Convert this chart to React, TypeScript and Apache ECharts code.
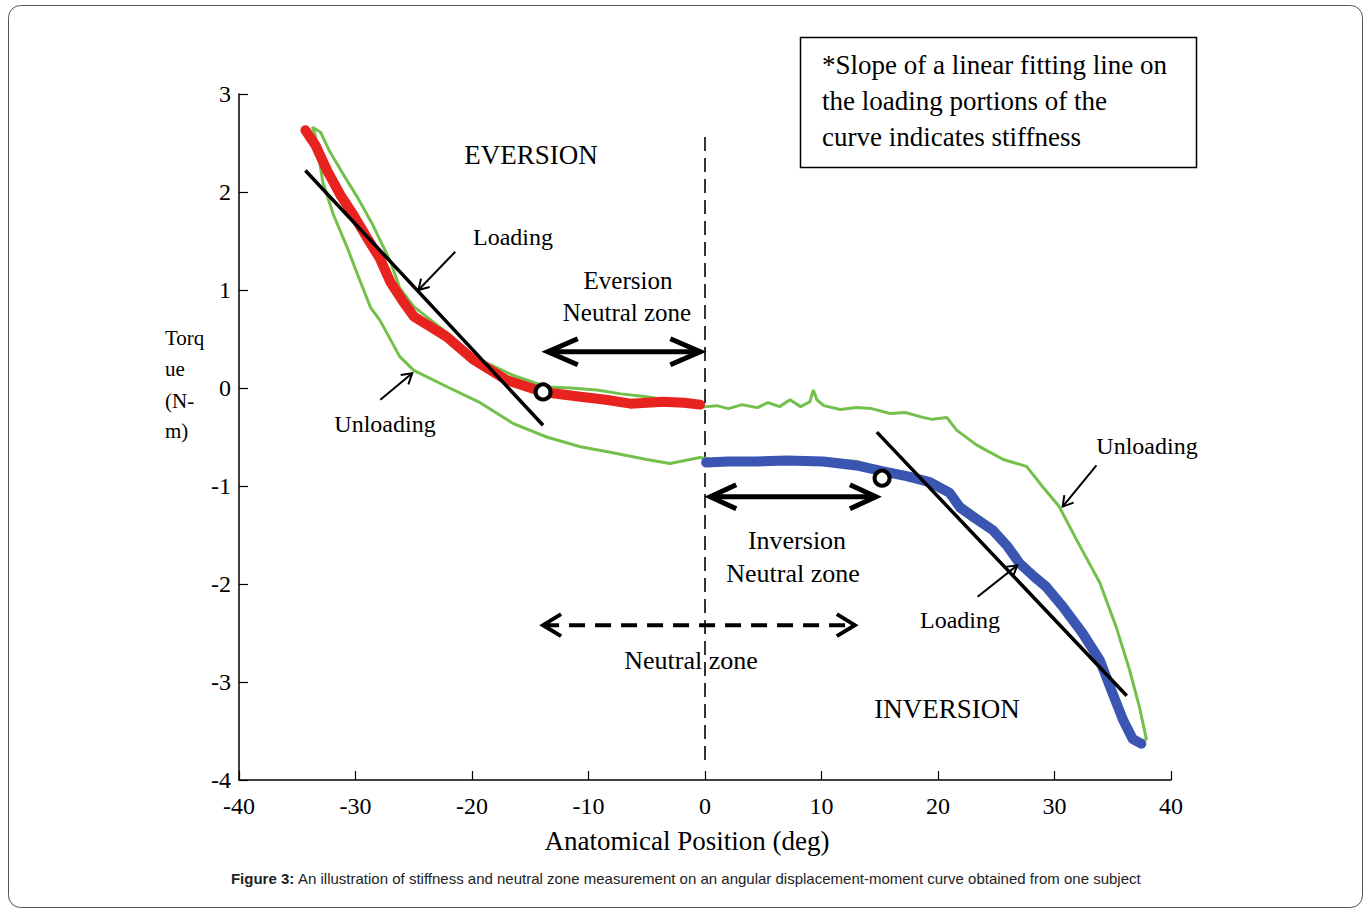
import React, { useEffect, useRef } from "react";
import * as echarts from "echarts";

// Axes
const X_MIN = -40, X_MAX = 40, X_STEP = 10;
const Y_MIN = -4, Y_MAX = 3, Y_STEP = 1;

// Green hysteresis loop (several cycles), in traversal order
const greenUnloadInvX = [37.9, 37.3, 36.45, 35.3, 33.9, 31.9, 30.4, 29.0, 27.6, 25.6, 23.3, 21.6, 20.75, 19.5, 18.7, 17.2, 15.9, 14.3, 13.0, 11.6, 10.2, 9.6, 9.3, 9.0, 8.2, 7.3, 6.4, 5.4, 4.5, 3.2, 2.0, 1.0, 0.17];
const greenUnloadInvY = [-3.59, -3.26, -2.88, -2.44, -1.99, -1.55, -1.21, -1.01, -0.80, -0.73, -0.58, -0.43, -0.30, -0.32, -0.30, -0.25, -0.26, -0.21, -0.20, -0.22, -0.18, -0.12, -0.02, -0.14, -0.19, -0.12, -0.19, -0.15, -0.20, -0.17, -0.21, -0.18, -0.19];
const greenLoadEvX = [-0.43, -2.5, -5.0, -7.2, -9.3, -11.5, -13.6, -16.5, -19.9, -22.1, -25.0, -26.2, -27.0, -28.5, -29.8, -31.0, -32.2, -33.0, -33.7];
const greenLoadEvY = [-0.20, -0.14, -0.09, -0.06, -0.02, 0.0, 0.01, 0.13, 0.32, 0.56, 0.83, 1.02, 1.29, 1.66, 1.94, 2.17, 2.41, 2.61, 2.66];
const greenUnloadEvX = [-33.45, -32.8, -31.9, -30.7, -29.8, -28.7, -27.9, -26.2, -25.0, -22.1, -19.3, -16.5, -13.6, -10.7, -7.9, -5.0, -3.0, -0.43];
const greenUnloadEvY = [2.58, 2.10, 1.77, 1.43, 1.15, 0.82, 0.69, 0.32, 0.18, 0.01, -0.15, -0.36, -0.50, -0.60, -0.66, -0.73, -0.77, -0.71];
const greenLoadInvX = [0.5, 4.4, 10.1, 13.0, 15.2, 17.3, 19.3, 21.0, 22.0, 24.7, 27.0, 29.3, 30.7, 32.4, 33.9, 35.0, 35.9, 36.7, 37.5, 37.9];
const greenLoadInvY = [-0.73, -0.72, -0.72, -0.75, -0.82, -0.87, -0.93, -1.04, -1.18, -1.41, -1.74, -2.00, -2.20, -2.47, -2.74, -3.08, -3.36, -3.54, -3.60, -3.59];

// Red: eversion loading portion
const redX = [-34.3, -33.45, -32.4, -31.3, -30.2, -29.0, -27.9, -27.0, -25.9, -25.0, -23.5, -22.15, -19.9, -17.0, -13.9, -10.7, -8.5, -6.4, -3.6, -1.8, -0.43];
const redY = [2.63, 2.48, 2.21, 1.97, 1.77, 1.53, 1.32, 1.08, 0.88, 0.73, 0.62, 0.52, 0.29, 0.08, -0.04, -0.09, -0.12, -0.16, -0.14, -0.15, -0.17];

// Blue: inversion loading portion
const blueX = [0.1, 2.0, 4.4, 7.0, 10.15, 13.0, 15.3, 17.3, 19.3, 21.0, 21.9, 23.2, 24.7, 26.0, 27.0, 28.2, 29.3, 30.7, 32.4, 33.9, 35.0, 35.9, 36.7, 37.45];
const blueY = [-0.76, -0.75, -0.75, -0.74, -0.75, -0.79, -0.85, -0.90, -0.96, -1.07, -1.22, -1.33, -1.45, -1.62, -1.79, -1.92, -2.03, -2.23, -2.50, -2.78, -3.12, -3.39, -3.58, -3.63];

// Linear fitting lines
const fitLeftX = [-34.3, -13.9];
const fitLeftY = [2.22, -0.38];
const fitRightX = [14.75, 36.2];
const fitRightY = [-0.45, -3.14];

// Neutral-zone boundary points (open circles)
const circleX = [-13.9, 15.2];
const circleY = [-0.04, -0.92];

// Zero line
const zeroLineY = [2.56, -3.8];

// Arrows (data coordinates): from, to
const arrowEvNZ = [[-13.5, 0.37], [-0.4, 0.37]];
const arrowInvNZ = [[0.45, -1.11], [14.67, -1.11]];
const arrowNZ = [[-13.9, -2.42], [12.86, -2.42]];
const arrowLoadL = [[-21.44, 1.39], [-24.6, 1.0]];
const arrowUnloadL = [[-27.87, -0.12], [-25.13, 0.15]];
const arrowUnloadR = [[33.6, -0.79], [30.7, -1.21]];
const arrowLoadR = [[23.4, -2.13], [26.8, -1.81]];

const zip = (xs: number[], ys: number[]) => xs.map((x, i) => [x, ys[i]]);

const SERIF = '"Liberation Serif", "Times New Roman", serif';

export default function App() {
  const ref = useRef<HTMLDivElement>(null);
  useEffect(() => {
    if (!ref.current) return;
    const chart = echarts.init(ref.current, null, { renderer: "svg" });
    const green = [
      ...zip(greenUnloadInvX, greenUnloadInvY),
      ...zip(greenLoadEvX, greenLoadEvY),
      ...zip(greenUnloadEvX, greenUnloadEvY),
      ...zip(greenLoadInvX, greenLoadInvY),
    ];
    const option: any = {
      animation: false,
      backgroundColor: "#ffffff",
      grid: { left: 239, right: 199, top: 94, bottom: 133, containLabel: false },
      xAxis: {
        type: "value", min: X_MIN, max: X_MAX, interval: X_STEP,
        axisLine: { onZero: false, lineStyle: { color: "#000", width: 1.5 } },
        axisTick: { inside: true, length: 9, lineStyle: { color: "#000", width: 1.2 } },
        axisLabel: { color: "#000", fontFamily: SERIF, fontSize: 24, margin: 14 },
        splitLine: { show: false },
      },
      yAxis: {
        type: "value", min: Y_MIN, max: Y_MAX, interval: Y_STEP,
        axisLine: { show: true, onZero: false, lineStyle: { color: "#000", width: 1.5 } },
        axisTick: { show: true, inside: true, length: 9, lineStyle: { color: "#000", width: 1.2 } },
        axisLabel: { color: "#000", fontFamily: SERIF, fontSize: 24, margin: 8 },
        splitLine: { show: false },
      },
      series: [
        {
          type: "line", data: [[0, zeroLineY[0]], [0, zeroLineY[1]]], showSymbol: false, silent: true,
          lineStyle: { color: "#333", width: 2, type: [14, 7] }, z: 1,
        },
        {
          type: "line", data: green, showSymbol: false, silent: true,
          lineStyle: { color: "#74c04c", width: 3 }, z: 2,
        },
        {
          type: "line", data: zip(redX, redY), showSymbol: false, silent: true,
          lineStyle: { color: "#e8231f", width: 10, cap: "round", join: "round" }, z: 3,
        },
        {
          type: "line", data: zip(blueX, blueY), showSymbol: false, silent: true,
          lineStyle: { color: "#3a56b2", width: 10, cap: "round", join: "round" }, z: 3,
        },
        {
          type: "line", data: zip(fitLeftX, fitLeftY), showSymbol: false, silent: true,
          lineStyle: { color: "#000", width: 3.5 }, z: 4,
        },
        {
          type: "line", data: zip(fitRightX, fitRightY), showSymbol: false, silent: true,
          lineStyle: { color: "#000", width: 3.5 }, z: 4,
        },
        {
          type: "scatter", data: zip(circleX, circleY), symbolSize: 15, silent: true,
          itemStyle: { color: "#fff", borderColor: "#000", borderWidth: 4, opacity: 1 }, z: 5,
        },
      ],
    };
    chart.setOption(option);

    const px = (p: number[]) => chart.convertToPixel({ gridIndex: 0 }, p) as number[];
    const chevron = (tip: number[], from: number[], L: number, W: number) => {
      const dx = tip[0] - from[0], dy = tip[1] - from[1];
      const len = Math.hypot(dx, dy) || 1;
      const ux = dx / len, uy = dy / len, nx = -uy, ny = ux;
      return [
        [tip[0] - L * ux + W * nx, tip[1] - L * uy + W * ny],
        [tip[0], tip[1]],
        [tip[0] - L * ux - W * nx, tip[1] - L * uy - W * ny],
      ];
    };
    const arrow = (a: number[][], both: boolean, width: number, L: number, W: number, dashed = false) => {
      const p0 = px(a[0]), p1 = px(a[1]);
      const els: any[] = [
        {
          type: "line", z: 100,
          shape: { x1: p0[0], y1: p0[1], x2: p1[0], y2: p1[1] },
          style: { stroke: "#000", lineWidth: width, lineDash: dashed ? [16, 10] : null },
        },
        {
          type: "polyline", z: 100, shape: { points: chevron(p1, p0, L, W) },
          style: { stroke: "#000", lineWidth: width, fill: null, lineJoin: "miter" },
        },
      ];
      if (both) {
        els.push({
          type: "polyline", z: 100, shape: { points: chevron(p0, p1, L, W) },
          style: { stroke: "#000", lineWidth: width, fill: null, lineJoin: "miter" },
        });
      }
      return els;
    };
    const txt = (text: string, x: number, y: number, size: number, align = "center") => ({
      type: "text", x, y, z: 90,
      style: { text, fill: "#000", font: `${size}px ${SERIF}`, align, verticalAlign: "middle" },
    });

    const graphic: any[] = [
      {
        type: "rect", z: 0, silent: true,
        shape: { x: 8.5, y: 5.5, width: 1354, height: 902, r: 12 },
        style: { fill: "none", stroke: "#555", lineWidth: 1 },
      },
      {
        type: "rect", z: 90,
        shape: { x: 800.5, y: 37.5, width: 396, height: 130 },
        style: { fill: "#fff", stroke: "#000", lineWidth: 1.5 },
      },
      txt("*Slope of a linear fitting line on", 822, 65, 27, "left"),
      txt("the loading portions of the", 822, 101, 27, "left"),
      txt("curve indicates stiffness", 822, 137, 27, "left"),
      txt("EVERSION", 531, 155, 27),
      txt("Loading", 513, 237, 24),
      txt("Eversion", 628, 280, 25),
      txt("Neutral zone", 627, 312, 25),
      txt("Torq", 165, 338, 21, "left"),
      txt("ue", 165, 369, 21, "left"),
      txt("(N-", 165, 401, 21, "left"),
      txt("m)", 165, 431, 21, "left"),
      txt("Unloading", 385, 424, 24),
      txt("Unloading", 1147, 446, 24),
      txt("Inversion", 797, 540, 26),
      txt("Neutral zone", 793, 573, 26),
      txt("Loading", 960, 620, 24),
      txt("Neutral zone", 691, 660, 26),
      txt("INVERSION", 947, 709, 27),
      txt("Anatomical Position (deg)", 687, 841, 27),
      {
        type: "text", x: 686, y: 878, z: 90,
        style: {
          text: "{b|Figure 3:} An illustration of stiffness and neutral zone measurement on an angular displacement-moment curve obtained from one subject",
          fill: "#222", font: '15px "Liberation Sans", Arial, sans-serif', align: "center", verticalAlign: "middle",
          rich: { b: { fontWeight: "bold", fontSize: 15, fontFamily: '"Liberation Sans", Arial, sans-serif', fill: "#222" } },
        },
      },
      ...arrow(arrowEvNZ, true, 5, 30, 13),
      ...arrow(arrowInvNZ, true, 5, 26, 12),
      ...arrow(arrowNZ, true, 4, 18, 11, true),
      ...arrow(arrowLoadL, false, 2, 10, 6),
      ...arrow(arrowUnloadL, false, 2, 10, 6),
      ...arrow(arrowUnloadR, false, 2, 10, 6),
      ...arrow(arrowLoadR, false, 2, 10, 6),
    ];
    chart.setOption({ graphic });
    return () => chart.dispose();
  }, []);
  return (
    <div
      ref={ref}
      style={{ position: "fixed", left: 0, top: 0, width: 1370, height: 913, background: "#fff" }}
    />
  );
}
